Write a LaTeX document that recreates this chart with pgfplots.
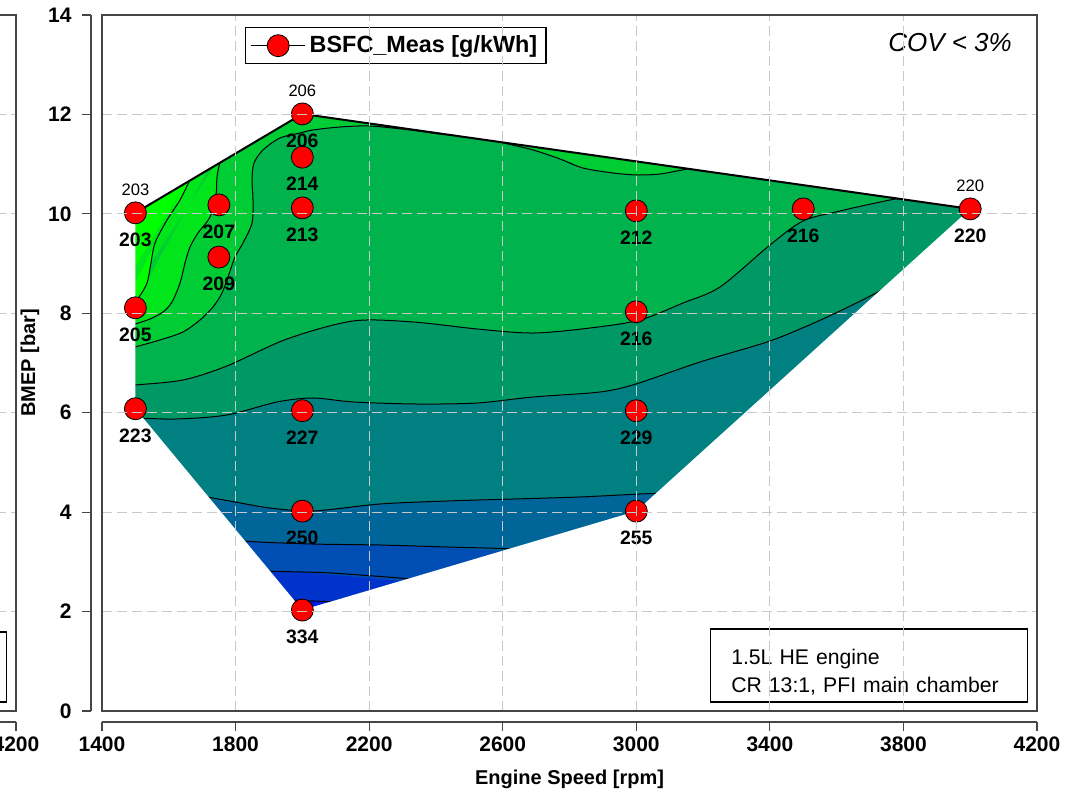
\documentclass[border=0pt]{standalone}
\usepackage{pgfplots}
\pgfplotsset{compat=1.18}
\usepackage{pgfplotstable}
\usepgfplotslibrary{fillbetween}
\usepackage{fontspec}
\setmainfont{Liberation Sans}

% band colours, greenest (lowest BSFC) to bluest (highest BSFC)
\definecolor{bA}{RGB}{0,255,0}
\definecolor{bB}{RGB}{0,230,26}
\definecolor{bC}{RGB}{0,204,51}
\definecolor{bD}{RGB}{0,179,77}
\definecolor{bE}{RGB}{0,153,102}
\definecolor{bF}{RGB}{0,128,128}
\definecolor{bG}{RGB}{0,102,153}
\definecolor{bH}{RGB}{0,77,179}
\definecolor{bI}{RGB}{0,51,204}
\definecolor{bJ}{RGB}{0,26,230}
\definecolor{framegray}{RGB}{70,70,70}
\definecolor{gridgray}{RGB}{200,200,200}

\newcommand{\ticklab}{\fontsize{10.5}{12}\selectfont\bfseries}
\newcommand{\axlab}{\fontsize{10}{12}\selectfont\bfseries}
\newcommand{\ptlab}{\fontsize{9.7}{11}\selectfont\bfseries}
\newcommand{\edgelab}{\fontsize{8.3}{10}\selectfont}

% measured operating points: speed [rpm], BMEP [bar], BSFC [g/kWh]
\pgfplotstableread{
x    y     v
1500 10.02 203
1500 8.11  205
1500 6.08  223
1750 10.18 207
1750 9.13  209
2000 12.01 206
2000 11.14 214
2000 10.12 213
2000 6.04  227
2000 4.02  250
2000 2.03  334
3000 10.06 212
3000 8.03  216
3000 6.04  229
3000 4.02  255
3500 10.10 216
4000 10.10 220
}\meas

\pgfplotstableread{
x    y     v
1500 10.02 203
2000 12.01 206
4000 10.10 220
}\measedge

% convex hull of the measured points, as upper and lower chains
\pgfplotstableread{
x    y
1500 6.08
1500 10.02
2000 12.01
4000 10.10
}\hullup
\pgfplotstableread{
x    y
1500 6.08
2000 2.03
3000 4.02
4000 10.10
}\hulllo

% white everywhere outside the hull (even-odd fill)
\pgfplotstableread{
x    y
1300 -1
4300 -1
4300 15
1300 15
1300 6.08
1500 6.08
1500 10.02
2000 12.01
4000 10.10
3000 4.02
2000 2.03
1500 6.08
1300 6.08
}\mask

% iso-BSFC lines and the outer paths that close each band on its green side
\pgfplotstableread{
x      y
1693.5 11.083
1660.5 10.641
1633.6 10.279
1594.7 9.876
1558.7 9.414
1546.7 9.012
1534.8 8.609
1510.8 8.328
1492.8 8.227
1459.9 8.066
}\cA
\pgfplotstableread{
x    y
1700 11.3
1700 13.5
1420 13.5
1420 8.066
}\oA

\pgfplotstableread{
x      y
1768.3 11.285
1753.4 11.043
1744.4 10.741
1741.4 10.379
1723.4 9.937
1687.5 9.615
1663.5 9.333
1648.6 9.012
1633.6 8.609
1609.6 8.227
1582.7 8.026
1543.7 7.885
1498.8 7.785
1459.9 7.724
}\cB
\pgfplotstableread{
x    y
1775 11.6
1775 13.5
1420 13.5
1420 7.724
}\oB

\pgfplotstableread{
x      y
1459.9 7.262
1498.8 7.322
1573.7 7.463
1642.6 7.624
1693.5 7.865
1732.4 8.126
1759.4 8.408
1777.3 8.730
1798.3 9.132
1822.2 9.414
1849.2 9.816
1852.2 10.279
1849.2 10.681
1855.2 11.023
1882.1 11.285
1933.0 11.526
1992.9 11.626
2031.9 11.687
2112.7 11.747
2202.6 11.767
2322.4 11.687
2412.2 11.606
2502.0 11.546
2546.9 11.526
2591.8 11.445
2690.7 11.285
2771.6 11.103
2840.4 10.922
2930.3 10.822
3002.2 10.782
3071.0 10.802
3151.9 10.902
3220.8 10.983
}\cC
\pgfplotstableread{
x      y
1420   7.262
1420   13.5
3220.8 13.5
3220.8 11.2
}\oC

\pgfplotstableread{
x      y
1459.9 6.537
1498.8 6.557
1642.6 6.658
1774.3 6.940
1954.0 7.483
2151.7 7.845
2331.3 7.825
2523.0 7.684
2690.7 7.603
2861.4 7.704
3011.1 7.865
3139.9 8.207
3250.7 8.529
3400.4 9.374
3499.2 9.856
3610.0 10.058
3759.8 10.279
3879.6 10.420
}\cD
\pgfplotstableread{
x    y
1420 6.537
1420 13.5
3880 13.5
3880 10.7
}\oD

\pgfplotstableread{
x      y
1459.9 5.894
1498.8 5.894
1624.6 5.874
1774.3 5.954
1924.1 6.216
2031.9 6.296
2151.7 6.216
2343.3 6.175
2523.0 6.195
2690.7 6.316
2891.3 6.417
2999.1 6.578
3190.8 7.020
3391.4 7.422
3511.2 7.744
3610.0 8.046
3723.8 8.428
3804.7 8.750
}\cE
\pgfplotstableread{
x    y
1420 5.894
1420 13.5
4150 13.5
4150 8.75
3810 8.75
}\oE

\pgfplotstableread{
x      y
1678.5 4.345
1714.4 4.305
1798.3 4.204
1903.1 4.083
2031.9 4.023
2232.5 4.164
2433.2 4.224
2630.8 4.264
2831.4 4.305
3011.1 4.365
3100.9 4.385
}\cF
\pgfplotstableread{
x    y
1660 4.345
1420 4.345
1420 13.5
4150 13.5
4150 4.385
3110 4.385
}\oF

\pgfplotstableread{
x      y
1783.3 3.520
1822.2 3.420
2031.9 3.359
2232.5 3.339
2433.2 3.299
2627.8 3.259
2681.7 3.198
}\cG
\pgfplotstableread{
x    y
1770 3.52
1420 3.52
1420 13.5
4150 13.5
4150 3.198
2690 3.198
}\oG

\pgfplotstableread{
x      y
1867.2 2.876
1897.1 2.816
2082.8 2.776
2322.4 2.655
2367.3 2.575
}\cH
\pgfplotstableread{
x    y
1855 2.876
1420 2.876
1420 13.5
4150 13.5
4150 2.575
2375 2.575
}\oH

\pgfplotstableread{
x      y
1948.0 2.293
1972.0 2.233
2088.8 2.193
2127.7 2.132
}\cI
\pgfplotstableread{
x    y
1935 2.293
1420 2.293
1420 13.5
4150 13.5
4150 2.132
2140 2.132
}\oI

\pgfplotsset{
  mapframe/.style={
    scale only axis, anchor=south west,
    width=467.5pt, height=348pt,
    xmin=1400, xmax=4200, ymin=0, ymax=14,
    xtick={1400,1800,...,4200}, ytick={0,2,...,14},
    xticklabels={}, yticklabels={}, major tick length=0pt,
    grid=major,
    major grid style={gridgray, line width=0.5pt, dash pattern=on 5pt off 2.5pt},
    axis line style={framegray, line width=0.6pt},
  },
  xhelper/.style={
    scale only axis, anchor=south west,
    width=467.5pt, height=10pt,
    xmin=1400, xmax=4200, ymin=0, ymax=1,
    axis x line*=bottom, axis y line=none,
    xtick={1400,1800,...,4200}, ytick=\empty,
    tick align=outside, major tick length=4.5pt,
    axis line style={framegray, line width=0.6pt},
    major tick style={framegray, line width=0.6pt},
    xticklabel style={font=\ticklab, anchor=north, inner sep=0pt, yshift=-2.5pt},
    /pgf/number format/assume math mode=true,
    /pgf/number format/1000 sep={},
    scaled x ticks=false,
  },
}
\tikzset{
  infobox/.style={
    draw=black, line width=0.75pt, fill=white, anchor=south east,
    minimum width=158.5pt, minimum height=35pt, text width=137.5pt,
    inner xsep=10.5pt, align=left, font=\fontsize{10.6}{14}\selectfont,
  },
}

\begin{document}
\begin{tikzpicture}

% neighbouring map (only its right edge lies on the page)
\begin{axis}[mapframe, at={(-459.5pt,40.5pt)}]
\node[infobox] at (rel axis cs:0.9904,0.0115) {};
\end{axis}
\begin{axis}[xhelper, at={(-459.5pt,35pt)}, xtick={4200}]
\end{axis}

% filled iso-BSFC map
\begin{axis}[mapframe, at={(51pt,40.5pt)}, axis on top]
\addplot[draw=none, name path=hup] table {\hullup};
\addplot[draw=none, name path=hlo] table {\hulllo};

\addplot[draw=none, smooth, name path=cA] table {\cA};
\addplot[draw=none, name path=oA] table {\oA};
\addplot[draw=none, smooth, name path=cB] table {\cB};
\addplot[draw=none, name path=oB] table {\oB};
\addplot[draw=none, smooth, name path=cC] table {\cC};
\addplot[draw=none, name path=oC] table {\oC};
\addplot[draw=none, smooth, name path=cD] table {\cD};
\addplot[draw=none, name path=oD] table {\oD};
\addplot[draw=none, smooth, name path=cE] table {\cE};
\addplot[draw=none, name path=oE] table {\oE};
\addplot[draw=none, smooth, name path=cF] table {\cF};
\addplot[draw=none, name path=oF] table {\oF};
\addplot[draw=none, smooth, name path=cG] table {\cG};
\addplot[draw=none, name path=oG] table {\oG};
\addplot[draw=none, smooth, name path=cH] table {\cH};
\addplot[draw=none, name path=oH] table {\oH};
\addplot[draw=none, smooth, name path=cI] table {\cI};
\addplot[draw=none, name path=oI] table {\oI};

\addplot[fill=bJ] fill between[of=hup and hlo];
\addplot[fill=bI] fill between[of=cI and oI];
\addplot[fill=bH] fill between[of=cH and oH];
\addplot[fill=bG] fill between[of=cG and oG];
\addplot[fill=bF] fill between[of=cF and oF];
\addplot[fill=bE] fill between[of=cE and oE];
\addplot[fill=bD] fill between[of=cD and oD];
\addplot[fill=bC] fill between[of=cC and oC];
\addplot[fill=bB] fill between[of=cB and oB];
\addplot[fill=bA] fill between[of=cA and oA];

\addplot[black, line width=0.5pt, smooth] table {\cA};
\addplot[black, line width=0.5pt, smooth] table {\cB};
\addplot[black, line width=0.5pt, smooth] table {\cC};
\addplot[black, line width=0.5pt, smooth] table {\cD};
\addplot[black, line width=0.5pt, smooth] table {\cE};
\addplot[black, line width=0.5pt, smooth] table {\cF};
\addplot[black, line width=0.5pt, smooth] table {\cG};
\addplot[black, line width=0.5pt, smooth] table {\cH};
\addplot[black, line width=0.5pt, smooth] table {\cI};

\addplot[fill=white, draw=none, even odd rule] table {\mask};
\addplot[black, line width=1pt] table[x=x,y=y] {\measedge};
\end{axis}

% offset axis lines with ticks
\begin{axis}[xhelper, at={(51pt,35pt)},
  xlabel={Engine Speed [rpm]},
  every axis x label/.style={at={(axis description cs:0.5,-2.85)}, anchor=center, font=\axlab}]
\end{axis}
\begin{axis}[
  scale only axis, anchor=south west, at={(45.5pt,40.5pt)},
  width=10pt, height=348pt,
  xmin=0, xmax=1, ymin=0, ymax=14,
  axis y line*=left, axis x line=none,
  ytick={0,2,...,14}, xtick=\empty,
  tick align=outside, major tick length=4.5pt,
  axis line style={framegray, line width=0.6pt},
  major tick style={framegray, line width=0.6pt},
  yticklabel style={font=\ticklab, anchor=east, inner sep=0pt, xshift=-5pt},
  /pgf/number format/assume math mode=true,
  ylabel={BMEP [bar]},
  every axis y label/.style={at={(axis description cs:-3.05,0.5)}, rotate=90, anchor=center, font=\axlab}]
\end{axis}

% measured points, labels, legend and notes
\begin{axis}[
  scale only axis, anchor=south west, at={(51pt,40.5pt)},
  width=467.5pt, height=348pt,
  xmin=1400, xmax=4200, ymin=0, ymax=14,
  hide axis, clip=false,
  legend style={at={(0.1529,0.9828)}, anchor=north west, draw=black, line width=0.75pt,
    fill=white, inner xsep=2.5pt, inner ysep=2pt,
    font=\fontsize{11.7}{14}\selectfont\bfseries},
  legend cell align=left,
  legend image code/.code={
    \draw[black, line width=0.5pt] (0pt,0pt) -- (27pt,0pt);
    \path[mark=*, mark size=5.5pt, mark options={fill=red, draw=black, line width=0.4pt, solid}] plot coordinates {(13.5pt,0pt)};
  }]
\addplot[only marks, mark=*, mark size=5.5pt, mark options={fill=red, draw=black, line width=0.4pt}] table[x=x,y=y] {\meas};
\addlegendentry{BSFC\_Meas [g/kWh]}
\addplot[forget plot, draw=none, mark=none, nodes near coords, point meta=explicit symbolic,
  every node near coord/.append style={font=\ptlab, anchor=center, yshift=-13.5pt, inner sep=0pt}]
  table[x=x,y=y,meta=v] {\meas};
\addplot[forget plot, draw=none, mark=none, nodes near coords, point meta=explicit symbolic,
  every node near coord/.append style={font=\edgelab, anchor=center, yshift=11.5pt, inner sep=0pt}]
  table[x=x,y=y,meta=v] {\measedge};
\node[anchor=east, font=\fontsize{13}{15}\selectfont\itshape] at (rel axis cs:0.9806,0.9598) {COV < 3\%};
\node[infobox] at (rel axis cs:0.9904,0.0115) {\rule{0pt}{14.5pt}1.5L HE engine\\CR 13:1, PFI main chamber};
\end{axis}

\pgfresetboundingbox
\path[use as bounding box] (0,0) rectangle (535.5pt,396pt);
\end{tikzpicture}
\end{document}
